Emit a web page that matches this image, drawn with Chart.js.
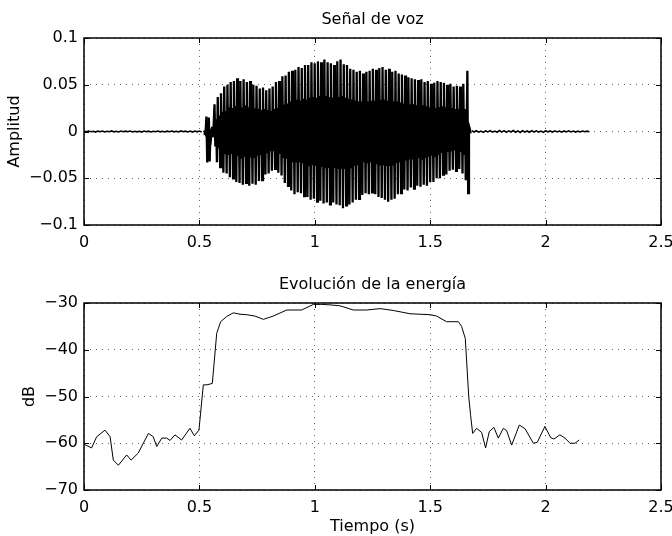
<!DOCTYPE html>
<html>
<head>
<meta charset="utf-8">
<script src="https://cdn.jsdelivr.net/npm/chart.js@4/dist/chart.umd.min.js"></script>
<style>
  body { margin: 0; background: #fff; }
  canvas { position: absolute; left: 0; }
  #signal { top: 0; }
  #energy { top: 268px; }
</style>
</head>
<body>
<canvas id="signal" width="672" height="268"></canvas>
<canvas id="energy" width="672" height="268"></canvas>
<script>
// tick labels
const timeTicks = [0, 0.5, 1, 1.5, 2, 2.5]
const ampTicks = [-0.1, -0.05, 0, 0.05, 0.1]
const dbTicks = [-70, -60, -50, -40, -30]

// speech signal, amplitudes in thousandths
const quietAStart = 0
const quietBStart = 1.68
const quietStep = 0.01
const quietA = [0.2,-0.4,0.5,-0.3,0.3,-0.6,0.4,-0.2,0.5,-0.5, 0.3,-0.3,0.6,-0.4,0.2,-0.5,0.5,-0.3,0.4,-0.3,
  0.5,-0.5,0.3,-0.4,0.3,-0.6,0.5,-0.3,0.4,-0.5, 0.3,-0.3,0.5,-0.4,0.3,-0.5,0.4,-0.3,0.5,-0.4,
  0.3,-0.5,0.6,-0.3,0.4,-0.5,0.5,-0.6,0.5,-0.4, 0.5,-0.5]
const quietB = [1.0,-0.5,0.8,-0.7,0.4,-0.9,0.6,-0.5,0.9,-0.7, 0.5,-0.8,1.1,-0.6,0.9,-0.9,0.7,-0.5,1.0,-0.8,
  0.7,-1.0,0.9,-0.7,0.6,-0.8,0.9,-0.6,0.7,-0.7, 0.5,-0.9,0.8,-0.5,0.6,-0.7,0.7,-0.5,0.5,-0.7,
  0.6,-0.4,0.7,-0.5,0.5,-0.6,0.4,-0.5,0.5,-0.3, 0.4,-0.3]

const voicedStart = 0.52
const voicedStep = 0.0035
const voiced = [
  1,-1,0,16,-33,2,15,-32,3,-4,5,-6,8,
  29,-16,13,-33, 37,-18,17,-38, 41,-22,21,-44, 48,-23,22,-45,
  50,-25,26,-49, 53,-24,25,-50, 54,-27,27,-54, 57,-26,28,-55,
  54,-28,26,-57, 56,-27,28,-55, 53,-29,26,-58, 54,-28,27,-56,
  50,-27,25,-57, 49,-26,24,-53, 46,-25,23,-52, 47,-24,24,-46,
  44,-22,23,-45, 46,-21,22,-42, 48,-21,24,-40, 53,-22,25,-44,
  54,-24,27,-47, 59,-27,29,-55, 60,-29,30,-58, 64,-31,32,-63,
  65,-33,31,-67, 66,-32,34,-65, 69,-33,33,-66, 68,-34,35,-69,
  71,-35,34,-70, 71,-36,36,-73, 74,-36,37,-72, 73,-37,36,-75,
  75,-37,38,-74, 74,-38,37,-77, 77,-38,38,-76, 74,-39,37,-78,
  73,-38,36,-76, 71,-39,37,-78, 75,-39,37,-79, 77,-40,38,-82,
  72,-40,36,-79, 71,-39,35,-78, 67,-38,34,-76, 66,-37,33,-73,
  64,-36,32,-72, 65,-34,32,-68, 62,-33,31,-66, 64,-33,32,-67,
  65,-33,33,-65, 67,-34,33,-67, 66,-35,34,-70, 68,-35,34,-71,
  69,-36,34,-73, 66,-37,33,-75, 67,-37,33,-73, 64,-35,32,-72,
  65,-34,32,-67, 62,-33,31,-66, 61,-32,30,-62, 60,-31,30,-63,
  58,-30,29,-60, 57,-30,29,-61, 56,-29,28,-58, 55,-29,27,-59,
  56,-29,28,-57, 53,-28,27,-58, 54,-27,26,-54, 51,-26,26,-54,
  52,-26,25,-50, 54,-25,26,-50, 53,-23,27,-46, 52,-23,26,-46,
  50,-22,25,-42, 51,-21,25,-41, 48,-20,24,-42, 49,-20,24,-40,
  48,-22,25,-45, 51,-24,24,-52, -8,65,-66,6,
  3,-2
]

// short-time energy (dB)
const energyT = [0, 0.033, 0.055, 0.091, 0.113, 0.127, 0.149, 0.185, 0.204, 0.235, 0.279, 0.3, 0.315, 0.337,
  0.358, 0.373, 0.394, 0.423, 0.459, 0.478, 0.498, 0.517, 0.533, 0.556, 0.575, 0.592, 0.618, 0.647, 0.676,
  0.705, 0.741, 0.777, 0.82, 0.878, 0.943, 0.994, 1.03, 1.066, 1.109, 1.167, 1.225, 1.283, 1.34, 1.413, 1.5,
  1.528, 1.571, 1.622, 1.636, 1.652, 1.667, 1.675, 1.684, 1.701, 1.723, 1.74, 1.756, 1.776, 1.795, 1.817,
  1.831, 1.853, 1.886, 1.911, 1.947, 1.964, 1.997, 2.022, 2.036, 2.062, 2.084, 2.106, 2.127, 2.146]
const energyDb = [-60.2, -61, -58.6, -57.2, -58.6, -63.6, -64.7, -62.5, -63.6, -62.1, -57.9, -58.6, -60.7, -58.9,
  -58.9, -59.4, -58.2, -59.3, -56.8, -58.4, -57.2, -47.5, -47.5, -47.2, -36.5, -34, -32.9, -32.1, -32.4,
  -32.5, -32.8, -33.5, -32.8, -31.5, -31.5, -30.3, -30.3, -30.4, -30.6, -31.5, -31.5, -31.2, -31.6, -32.3, -32.5,
  -32.8, -34, -34, -35, -37.6, -50, -54, -57.9, -56.8, -57.7, -61, -57.5, -56.6, -58.9, -56.8,
  -57.3, -60.4, -56.1, -56.9, -60, -59.8, -56.4, -58.8, -59.1, -58.2, -58.9, -60, -60, -59.3]

Chart.defaults.font.family = '"DejaVu Sans", sans-serif'
Chart.defaults.color = '#000'
Chart.defaults.animation = false

const fmt = v => String(v).replace('-', '\u2212')

function segment(start, step, vals) {
  return vals.map((v, i) => ({ x: start + i * step, y: v / 1000 }))
}

function trace(points, width) {
  return { data: points, borderColor: '#000', borderWidth: width, pointRadius: 0, tension: 0 }
}

const energyPts = energyT.map((t, i) => ({ x: t, y: energyDb[i] }))

// matlab style box with inward ticks
const boxPlugin = {
  id: 'box',
  afterDraw(chart) {
    const { ctx, chartArea: a, scales } = chart
    ctx.save()
    ctx.strokeStyle = '#000'
    ctx.lineWidth = 1
    ctx.beginPath()
    scales.x.ticks.forEach(t => {
      const px = Math.round(scales.x.getPixelForValue(t.value)) + 0.5
      ctx.moveTo(px, a.bottom); ctx.lineTo(px, a.bottom - 5)
      ctx.moveTo(px, a.top); ctx.lineTo(px, a.top + 5)
    })
    scales.y.ticks.forEach(t => {
      const py = Math.round(scales.y.getPixelForValue(t.value)) + 0.5
      ctx.moveTo(a.left, py); ctx.lineTo(a.left + 5, py)
      ctx.moveTo(a.right, py); ctx.lineTo(a.right - 5, py)
    })
    ctx.stroke()
    ctx.lineWidth = 1.5
    ctx.strokeRect(a.left, a.top, a.right - a.left, a.bottom - a.top)
    ctx.restore()
  }
}

function xAxis(height, title) {
  return {
    type: 'linear', min: 0, max: 2.5,
    afterBuildTicks: s => { s.ticks = timeTicks.map(v => ({ value: v })) },
    afterFit: s => { s.height = height; s.paddingLeft = 0; s.paddingRight = 0 },
    ticks: { callback: fmt, padding: 8, font: { size: 16 }, maxRotation: 0, autoSkip: false },
    grid: { color: '#666', drawTicks: false },
    border: { display: false, dash: [1, 5] },
    title: title ? { display: true, text: title, font: { size: 16 }, padding: { top: 0, bottom: 0 } } : { display: false }
  }
}

function yAxis(min, max, ticks, title, titlePad) {
  return {
    min: min, max: max,
    afterBuildTicks: s => { s.ticks = ticks.map(v => ({ value: v })) },
    afterFit: s => { s.width = 84; s.paddingTop = 0; s.paddingBottom = 0 },
    ticks: { callback: fmt, padding: 6, font: { size: 16 }, autoSkip: false },
    grid: { color: '#666', drawTicks: false },
    border: { display: false, dash: [1, 5] },
    title: { display: true, text: title, font: { size: 16 }, padding: { top: titlePad, bottom: 0 } }
  }
}

function titleOpts(text, top, bottom) {
  return {
    display: true, text: text, fullSize: false,
    font: { size: 16, weight: 'normal' },
    padding: { top: top, bottom: bottom }
  }
}

new Chart(document.getElementById('signal'), {
  type: 'line',
  data: {
    datasets: [
      trace(segment(quietAStart, quietStep, quietA), 1.6),
      trace(segment(voicedStart, voicedStep, voiced), 2.3),
      trace(segment(quietBStart, quietStep, quietB), 1.6)
    ]
  },
  options: {
    responsive: false,
    layout: { padding: { left: 0, right: 11, top: 0, bottom: 0 } },
    plugins: {
      legend: { display: false },
      tooltip: { enabled: false },
      title: titleOpts('Señal de voz', 9.9, 8.9)
    },
    scales: {
      x: xAxis(43, null),
      y: yAxis(-0.1, 0.1, ampTicks, 'Amplitud', 5.4)
    }
  },
  plugins: [boxPlugin]
})

new Chart(document.getElementById('energy'), {
  type: 'line',
  data: {
    datasets: [trace(energyPts, 1)]
  },
  options: {
    responsive: false,
    layout: { padding: { left: 0, right: 11, top: 0, bottom: 0 } },
    plugins: {
      legend: { display: false },
      tooltip: { enabled: false },
      title: titleOpts('Evolución de la energía', 6.9, 8.9)
    },
    scales: {
      x: xAxis(46, 'Tiempo (s)'),
      y: yAxis(-70, -30, dbTicks, 'dB', 20.7)
    }
  },
  plugins: [boxPlugin]
})
</script>
</body>
</html>
